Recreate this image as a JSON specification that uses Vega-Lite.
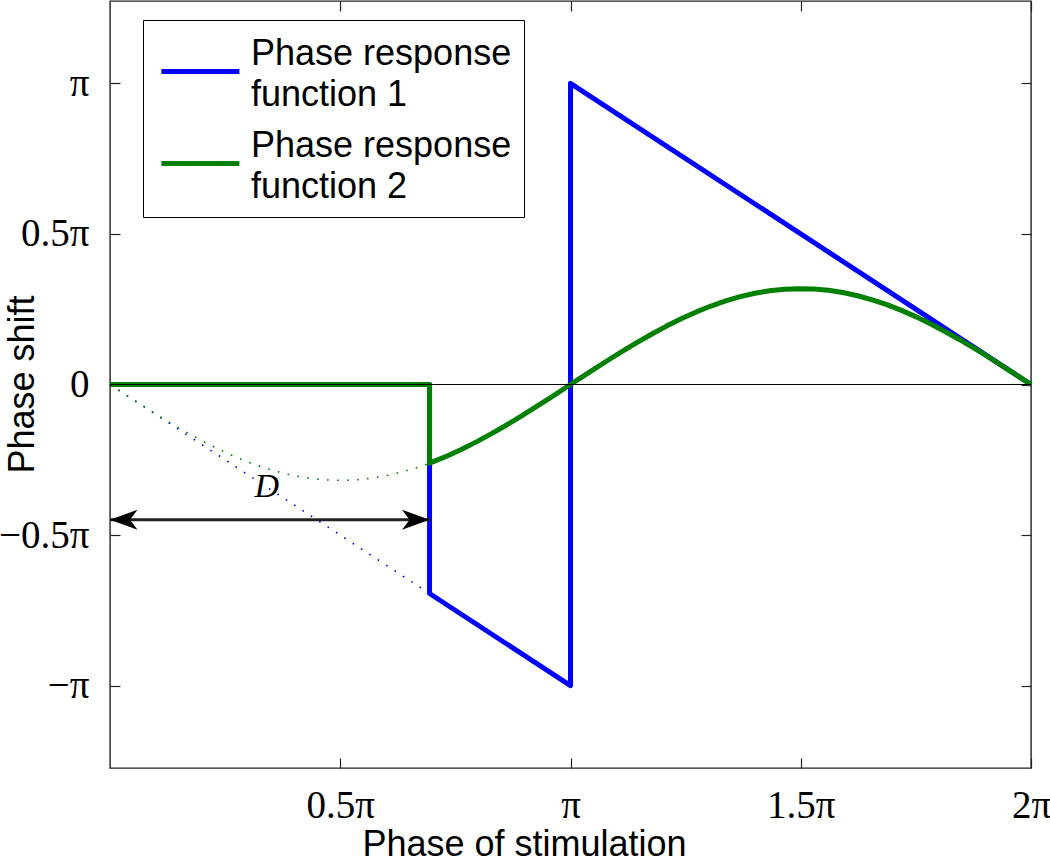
{
  "$schema": "https://vega.github.io/schema/vega-lite/v6.json",
  "width": 921,
  "height": 767,
  "autosize": {"type": "none"},
  "padding": {"left": 110, "top": 1, "right": 19, "bottom": 94},
  "background": "white",
  "config": {
    "view": {"stroke": "#222222", "strokeWidth": 1.4},
    "axis": {"grid": false, "domain": false, "tickColor": "#222222", "tickWidth": 1.2, "labelColor": "black", "titleColor": "black"},
    "style": {"guide-label": {"lineHeight": 41}}
  },
  "datasets": {
    "solid": [
      {"series": "Phase response function 1", "i": 0, "x": 0, "y": 0},
      {"series": "Phase response function 1", "i": 1, "x": 2.18, "y": 0},
      {"series": "Phase response function 1", "i": 2, "x": 2.18, "y": -2.18},
      {"series": "Phase response function 1", "i": 3, "x": 3.1416, "y": -3.1416},
      {"series": "Phase response function 1", "i": 4, "x": 3.1416, "y": 3.1416},
      {"series": "Phase response function 1", "i": 5, "x": 6.2832, "y": 0},
      {"series": "Phase response function 2", "i": 0, "x": 0, "y": 0},
      {"series": "Phase response function 2", "i": 1, "x": 2.18, "y": 0},
      {"series": "Phase response function 2", "i": 2, "x": 2.18, "y": -0.8204},
      {"series": "Phase response function 2", "i": 3, "x": 2.3, "y": -0.7457},
      {"series": "Phase response function 2", "i": 4, "x": 2.4, "y": -0.6755},
      {"series": "Phase response function 2", "i": 5, "x": 2.5, "y": -0.5985},
      {"series": "Phase response function 2", "i": 6, "x": 2.6, "y": -0.5155},
      {"series": "Phase response function 2", "i": 7, "x": 2.7, "y": -0.4274},
      {"series": "Phase response function 2", "i": 8, "x": 2.8, "y": -0.335},
      {"series": "Phase response function 2", "i": 9, "x": 2.9, "y": -0.2392},
      {"series": "Phase response function 2", "i": 10, "x": 3.0, "y": -0.1411},
      {"series": "Phase response function 2", "i": 11, "x": 3.1, "y": -0.0416},
      {"series": "Phase response function 2", "i": 12, "x": 3.1416, "y": 0},
      {"series": "Phase response function 2", "i": 13, "x": 3.2, "y": 0.0584},
      {"series": "Phase response function 2", "i": 14, "x": 3.3, "y": 0.1577},
      {"series": "Phase response function 2", "i": 15, "x": 3.4, "y": 0.2555},
      {"series": "Phase response function 2", "i": 16, "x": 3.5, "y": 0.3508},
      {"series": "Phase response function 2", "i": 17, "x": 3.6, "y": 0.4425},
      {"series": "Phase response function 2", "i": 18, "x": 3.7, "y": 0.5298},
      {"series": "Phase response function 2", "i": 19, "x": 3.8, "y": 0.6119},
      {"series": "Phase response function 2", "i": 20, "x": 3.9, "y": 0.6878},
      {"series": "Phase response function 2", "i": 21, "x": 4.0, "y": 0.7568},
      {"series": "Phase response function 2", "i": 22, "x": 4.1, "y": 0.8183},
      {"series": "Phase response function 2", "i": 23, "x": 4.2, "y": 0.8716},
      {"series": "Phase response function 2", "i": 24, "x": 4.3, "y": 0.9162},
      {"series": "Phase response function 2", "i": 25, "x": 4.4, "y": 0.9516},
      {"series": "Phase response function 2", "i": 26, "x": 4.5, "y": 0.9775},
      {"series": "Phase response function 2", "i": 27, "x": 4.6, "y": 0.9937},
      {"series": "Phase response function 2", "i": 28, "x": 4.7, "y": 0.9999},
      {"series": "Phase response function 2", "i": 29, "x": 4.8, "y": 0.9962},
      {"series": "Phase response function 2", "i": 30, "x": 4.9, "y": 0.9825},
      {"series": "Phase response function 2", "i": 31, "x": 5.0, "y": 0.9589},
      {"series": "Phase response function 2", "i": 32, "x": 5.1, "y": 0.9258},
      {"series": "Phase response function 2", "i": 33, "x": 5.2, "y": 0.8835},
      {"series": "Phase response function 2", "i": 34, "x": 5.3, "y": 0.8323},
      {"series": "Phase response function 2", "i": 35, "x": 5.4, "y": 0.7728},
      {"series": "Phase response function 2", "i": 36, "x": 5.5, "y": 0.7055},
      {"series": "Phase response function 2", "i": 37, "x": 5.6, "y": 0.6313},
      {"series": "Phase response function 2", "i": 38, "x": 5.7, "y": 0.5507},
      {"series": "Phase response function 2", "i": 39, "x": 5.8, "y": 0.4646},
      {"series": "Phase response function 2", "i": 40, "x": 5.9, "y": 0.3739},
      {"series": "Phase response function 2", "i": 41, "x": 6.0, "y": 0.2794},
      {"series": "Phase response function 2", "i": 42, "x": 6.1, "y": 0.1822},
      {"series": "Phase response function 2", "i": 43, "x": 6.2, "y": 0.0831},
      {"series": "Phase response function 2", "i": 44, "x": 6.2832, "y": 0}
    ],
    "dotted": [
      {"series": "Phase response function 1", "x": 0, "y": 0},
      {"series": "Phase response function 1", "x": 2.18, "y": -2.18},
      {"series": "Phase response function 2", "x": 0, "y": 0},
      {"series": "Phase response function 2", "x": 0.1, "y": -0.0998},
      {"series": "Phase response function 2", "x": 0.2, "y": -0.1987},
      {"series": "Phase response function 2", "x": 0.3, "y": -0.2955},
      {"series": "Phase response function 2", "x": 0.4, "y": -0.3894},
      {"series": "Phase response function 2", "x": 0.5, "y": -0.4794},
      {"series": "Phase response function 2", "x": 0.6, "y": -0.5646},
      {"series": "Phase response function 2", "x": 0.7, "y": -0.6442},
      {"series": "Phase response function 2", "x": 0.8, "y": -0.7174},
      {"series": "Phase response function 2", "x": 0.9, "y": -0.7833},
      {"series": "Phase response function 2", "x": 1.0, "y": -0.8415},
      {"series": "Phase response function 2", "x": 1.1, "y": -0.8912},
      {"series": "Phase response function 2", "x": 1.2, "y": -0.932},
      {"series": "Phase response function 2", "x": 1.3, "y": -0.9636},
      {"series": "Phase response function 2", "x": 1.4, "y": -0.9854},
      {"series": "Phase response function 2", "x": 1.5, "y": -0.9975},
      {"series": "Phase response function 2", "x": 1.6, "y": -0.9996},
      {"series": "Phase response function 2", "x": 1.7, "y": -0.9917},
      {"series": "Phase response function 2", "x": 1.8, "y": -0.9738},
      {"series": "Phase response function 2", "x": 1.9, "y": -0.9463},
      {"series": "Phase response function 2", "x": 2.0, "y": -0.9093},
      {"series": "Phase response function 2", "x": 2.1, "y": -0.8632},
      {"series": "Phase response function 2", "x": 2.18, "y": -0.8204}
    ]
  },
  "layer": [
    {
      "data": {"name": "solid"},
      "mark": {"type": "line", "strokeWidth": 5, "strokeJoin": "round", "strokeCap": "butt"},
      "encoding": {
        "x": {"field": "x", "type": "quantitative",
          "scale": {"domain": [0, 6.2832], "nice": false, "zero": false},
          "axis": {"orient": "bottom", "values": [1.5708, 3.1416, 4.7124, 6.2832],
            "labelExpr": "datum.value < 2 ? '0.5π' : datum.value < 4 ? 'π' : datum.value < 5 ? '1.5π' : '2π'",
            "tickSize": -10, "labelPadding": 28, "labelFont": "Liberation Serif", "labelFontSize": 39,
            "labelFlush": false, "labelOverlap": false,
            "title": "Phase of stimulation", "titleFont": "Liberation Sans", "titleFontSize": 36, "titleFontWeight": "normal",
            "titleX": 414, "titleY": 87, "titleBaseline": "alphabetic", "titleAlign": "center"}},
        "y": {"field": "y", "type": "quantitative",
          "scale": {"domain": [-4, 4], "nice": false, "zero": false},
          "axis": {"orient": "left", "values": [-3.1416, -1.5708, 0, 1.5708, 3.1416],
            "labelExpr": "datum.value < -2 ? '−π' : datum.value < -1 ? '−0.5π' : datum.value < 1 ? '0' : datum.value < 2 ? '0.5π' : 'π'",
            "tickSize": -10, "labelPadding": 31, "labelFont": "Liberation Serif", "labelFontSize": 39,
            "labelFlush": false, "labelOverlap": false,
            "title": "Phase shift", "titleFont": "Liberation Sans", "titleFontSize": 36, "titleFontWeight": "normal",
            "titleX": -77, "titleY": 383, "titleAngle": 270, "titleBaseline": "alphabetic", "titleAlign": "center"}},
        "color": {"field": "series", "type": "nominal",
          "scale": {"domain": ["Phase response function 1", "Phase response function 2"], "range": ["#0000ff", "#008000"]},
          "legend": {"orient": "none", "legendX": 33, "legendY": 19, "title": null,
            "symbolType": "M-0.8,0.9L3.2,0.9", "symbolStrokeWidth": 5, "symbolSize": 1521, "symbolDash": [1, 0],
            "labelFont": "Liberation Sans", "labelFontSize": 36, "labelColor": "black", "labelLimit": 0,
            "labelExpr": "['Phase response', slice(datum.label, 15)]",
            "labelOffset": 52, "rowPadding": 11, "padding": 12,
            "strokeColor": "black", "fillColor": "white"}},
        "order": {"field": "i", "type": "quantitative"}
      }
    },
    {
      "data": {"name": "dotted"},
      "mark": {"type": "line", "strokeWidth": 1.6, "strokeDash": [1.6, 8.4], "strokeCap": "butt"},
      "encoding": {
        "x": {"field": "x", "type": "quantitative",
          "scale": {"domain": [0, 6.2832], "nice": false, "zero": false},
          "axis": {"orient": "top", "values": [1.5708, 3.1416, 4.7124, 6.2832], "labels": false, "tickSize": -10, "title": null}},
        "y": {"field": "y", "type": "quantitative",
          "scale": {"domain": [-4, 4], "nice": false, "zero": false},
          "axis": {"orient": "right", "values": [-3.1416, -1.5708, 0, 1.5708, 3.1416], "labels": false, "tickSize": -10, "title": null}},
        "color": {"field": "series", "type": "nominal",
          "scale": {"domain": ["Phase response function 1", "Phase response function 2"], "range": ["#0000ff", "#008000"]},
          "legend": null}
      }
    },
    {
      "data": {"values": [{"y": 0}]},
      "mark": {"type": "rule", "color": "black", "strokeWidth": 1.2},
      "encoding": {"y": {"field": "y", "type": "quantitative", "axis": null}}
    },
    {
      "data": {"values": [{"x": 0, "x2": 2.18, "y": -1.41}]},
      "mark": {"type": "rule", "color": "#222222", "strokeWidth": 3},
      "encoding": {
        "x": {"field": "x", "type": "quantitative", "axis": null},
        "x2": {"field": "x2"},
        "y": {"field": "y", "type": "quantitative", "axis": null}
      }
    },
    {
      "data": {"values": [{"x": 0, "y": -1.41, "dir": "left"}, {"x": 2.18, "y": -1.41, "dir": "right"}]},
      "mark": {"type": "point", "filled": true, "color": "black", "opacity": 1, "size": 625},
      "encoding": {
        "x": {"field": "x", "type": "quantitative", "axis": null},
        "y": {"field": "y", "type": "quantitative", "axis": null},
        "shape": {"field": "dir", "type": "nominal", "legend": null,
          "scale": {"domain": ["left", "right"], "range": ["M0,0 L2.2,-0.8 L1.6,0 L2.2,0.8 Z", "M0,0 L-2.2,-0.8 L-1.6,0 L-2.2,0.8 Z"]}}
      }
    },
    {
      "data": {"values": [{"x": 1.07, "y": -1.07, "t": "D"}]},
      "mark": {"type": "text", "font": "Liberation Serif", "fontStyle": "italic", "fontSize": 34, "color": "black", "align": "center", "baseline": "middle"},
      "encoding": {
        "x": {"field": "x", "type": "quantitative", "axis": null},
        "y": {"field": "y", "type": "quantitative", "axis": null},
        "text": {"field": "t"}
      }
    }
  ],
  "resolve": {"axis": {"x": "independent", "y": "independent"}}
}
